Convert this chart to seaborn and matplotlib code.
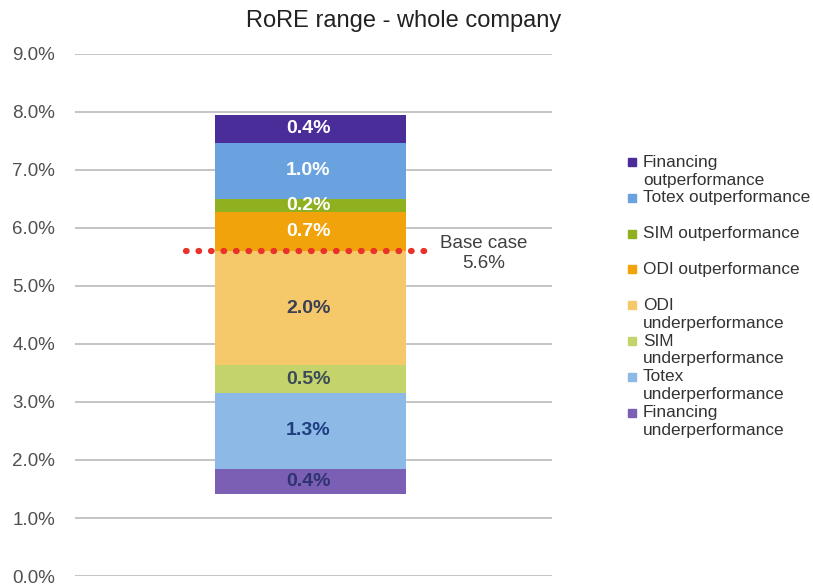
import numpy as np
import pandas as pd
import matplotlib
matplotlib.use("Agg")
import matplotlib.pyplot as plt
import seaborn as sns

sns.set_theme(style="white")
plt.rcParams['font.family'] = ['Liberation Sans', 'DejaVu Sans']

# Data (bottom to top)
base_start = 1.42
segments = ["Financing underperformance", "Totex underperformance", "SIM underperformance",
            "ODI underperformance", "ODI outperformance", "SIM outperformance",
            "Totex outperformance", "Financing outperformance"]
values = [0.43, 1.30, 0.48, 1.97, 0.68, 0.22, 0.97, 0.48]
labels = ["0.4%", "1.3%", "0.5%", "2.0%", "0.7%", "0.2%", "1.0%", "0.4%"]
legend_labels = ["Financing\nunderperformance", "Totex\nunderperformance", "SIM\nunderperformance",
                 "ODI\nunderperformance", "ODI outperformance", "SIM outperformance",
                 "Totex outperformance", "Financing\noutperformance"]
colors = ["#7B5FB5", "#8DB9E6", "#C5D46A", "#F5C96A", "#F0A30A", "#8FB01F", "#6AA2E0", "#4B2D9A"]
label_colors = ["#2E3270", "#1F3D80", "#3A4A5A", "#3A3F55", "white", "white", "white", "white"]
base_case = 5.6
yticks = [0, 1, 2, 3, 4, 5, 6, 7, 8, 9]
title = "RoRE range - whole company"

fig = plt.figure(figsize=(8.13, 5.88), dpi=100)
ax = fig.add_axes([0.092, 0.0204, 0.587, 0.8878])

bottoms = base_start + np.concatenate([[0], np.cumsum(values)[:-1]])
for seg, v, b, c in zip(segments, values, bottoms, colors):
    df = pd.DataFrame({"cat": ["Whole company"], "val": [v]})
    sns.barplot(data=df, x="cat", y="val", bottom=b, color=c, width=0.4,
                saturation=1, ax=ax, zorder=3, edgecolor="none", linewidth=0)

for v, b, lab, lc in zip(values, bottoms, labels, label_colors):
    ax.text(-0.005, b + v / 2, lab, ha="center", va="center", fontsize=14,
            fontweight="bold", color=lc, zorder=5)

ax.set_xlim(-0.494, 0.506)
ax.set_ylim(0, 9)
ax.set_yticks(yticks)
ax.set_yticklabels([f"{t:.1f}%" for t in yticks], fontsize=13.5, color="#505050")
ax.set_xticks([])
ax.set_xlabel("")
ax.set_ylabel("")
ax.tick_params(axis="y", length=0, pad=14)
ax.yaxis.grid(True, color="#BFBFBF", linewidth=1.3, zorder=0)
ax.set_axisbelow(True)
for s in ax.spines.values():
    s.set_visible(False)

# Base case dotted line
ax.plot([-0.26, 0.245], [base_case, base_case], linestyle=(0, (0.1, 1.9)),
        dash_capstyle="round", color="#E8322A", linewidth=4.5, zorder=6)
ax.text(0.363, base_case - 0.04, f"Base case\n{base_case:.1f}%", ha="center", va="center",
        fontsize=13.5, color="#404040", linespacing=1.3)

fig.text(0.497, 0.964, title, ha="center", va="center", fontsize=17, color="#222222")

# Legend (top to bottom)
y0 = 162
for i, idx in enumerate(range(len(segments) - 1, -1, -1)):
    ypx = y0 + i * 35.8
    yf = 1 - ypx / 588
    fig.patches.append(plt.Rectangle((628 / 813, yf - 4 / 588), 8 / 813, 8 / 588,
                                     transform=fig.transFigure, color=colors[idx]))
    fig.text(643 / 813, yf + 7.5 / 588, legend_labels[idx], ha="left", va="top",
             fontsize=12.4, color="#333333", linespacing=1.25,
             transform=fig.transFigure)

fig.savefig("out.png", dpi=100)
